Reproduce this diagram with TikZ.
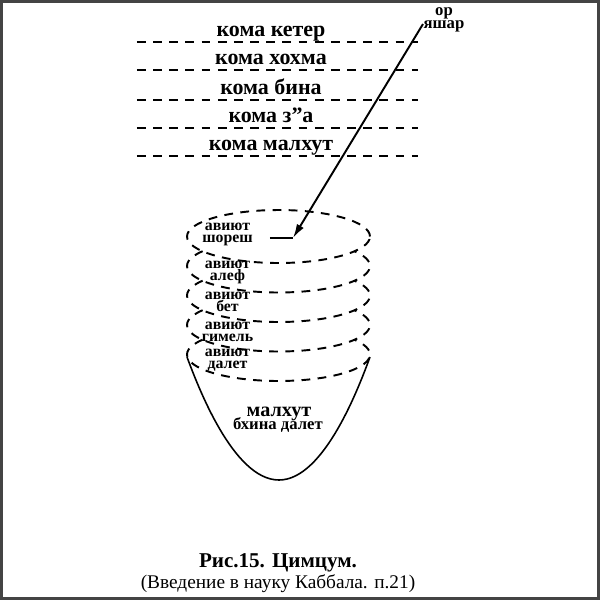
\documentclass[tikz,border=0pt]{standalone}
\usepackage{fontspec}
\setmainfont{Liberation Serif}
\usetikzlibrary{arrows.meta}

\definecolor{framegray}{HTML}{444444}

\tikzset{
  koma/.style={font=\bfseries\fontsize{12.5}{13}\selectfont, anchor=base},
  aviut/.style={font=\bfseries\fontsize{9}{6.8}\selectfont, align=center, inner sep=0pt},
  kli/.style={line width=1.1pt, dash pattern=on 5pt off 4.2pt},
}

\begin{document}
\begin{tikzpicture}[x=0.02cm, y=-0.02cm]

\useasboundingbox (0,0) rectangle (600,600);
\draw [framegray, line width=0.06cm] (1.5,1.5) rectangle (598.5,598.5);

% komot above
\foreach \y/\t [count=\i] in {42/кома кетер, 70/кома хохма, 100/кома бина, 128/кома з”а, 156/кома малхут} {
    \draw [kli] (137,\y) -- (418,\y);
    \node [koma] (koma\i) at (271,\y-6) {\t};
}

% ohr yashar
\node [font=\bfseries\fontsize{9.5}{7.4}\selectfont, align=center, inner sep=0pt] (orYashar) at (444,19.5) {ор\\яшар};
\coordinate (orStart) at (423,24);
\coordinate (markL) at (270,238);
\coordinate (markR) at (293,238);
\draw [line width=1.1pt] (markL) -- (markR);
\draw [line width=1.1pt, -{Latex[length=8pt,width=4.5pt]}] (orStart) -- (markR);

% kli
\draw [kli] (278.5,236.5) ellipse [x radius=1.83cm, y radius=0.53cm];
\foreach \c in {266,295.5,325,354.5} {
    \draw [kli] (278.5,\c) ++(146:1.83cm and 0.53cm) arc [start angle=146, end angle=394, x radius=1.83cm, y radius=0.53cm];
}
\draw [line width=0.9pt] (187,357) parabola bend (279,480) (370,357);

\foreach \y/\t [count=\i] in {234.5/шореш, 272.5/алеф, 302/бет, 331.5/гимель, 360/далет} {
    \node [aviut] (aviut\i) at (227.5,\y) {авиют\\\t};
}

\node [font=\bfseries\fontsize{11.5}{13}\selectfont, anchor=base] (malkhut) at (279,416) {малхут};
\node [font=\bfseries\fontsize{9.5}{11}\selectfont, anchor=base] (bhina) at (278,429) {бхина далет};

% caption
\node [font=\bfseries\fontsize{12}{14}\selectfont, anchor=base] (caption) at (278,567) {Рис.15. Цимцум.};
\node [font=\fontsize{11}{13}\selectfont, anchor=base] (source) at (278,588) {(Введение в науку Каббала. п.21)};

\end{tikzpicture}
\end{document}
